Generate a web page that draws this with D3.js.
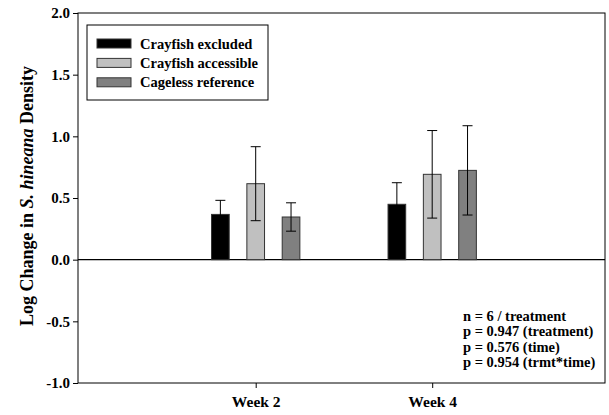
<!DOCTYPE html>
<html>
<head>
<meta charset="utf-8">
<script src="https://cdn.jsdelivr.net/npm/d3@7"></script>
<style>
body { margin:0; background:#fff; }
svg text { font-family:"Liberation Serif","Times New Roman",serif; font-weight:bold; }
</style>
</head>
<body>
<script>
// data
var weeks = ["Week 2", "Week 4"];
var groups = ["Crayfish excluded", "Crayfish accessible", "Cageless reference"];
var colors = ["#000000", "#c0c0c0", "#808080"];
var means = [[0.367, 0.616, 0.346], [0.449, 0.692, 0.724]];
var errs = [[0.114, 0.300, 0.115], [0.175, 0.355, 0.362]];
var yTicks = [-1.0, -0.5, 0.0, 0.5, 1.0, 1.5, 2.0];
var notes = ["n = 6 / treatment", "p = 0.947 (treatment)", "p = 0.576 (time)", "p = 0.954 (trmt*time)"];

main = function(){
	var W = 609, H = 415;
	var left = 78, right = 605, top = 13, bottom = 383;

	var svg = d3.select("body").append("svg")
		.attr("width", W).attr("height", H);

	var y = d3.scaleLinear().domain([-1, 2]).range([bottom, top]);
	var x = d3.scalePoint().domain(weeks).range([255.7, 432.2]);
	var xb = d3.scaleBand().domain(groups).range([-53, 53]).paddingInner(0.5).paddingOuter(0.25);

	// frame
	svg.append("rect")
		.attr("x", left).attr("y", top)
		.attr("width", right - left).attr("height", bottom - top)
		.attr("fill", "none").attr("stroke", "#000").attr("stroke-width", 1);

	// y axis (plain hyphen for negatives, like the original)
	var ya = svg.append("g").attr("transform", "translate(" + left + ",0)")
		.call(d3.axisLeft(y).tickValues(yTicks)
			.tickFormat(function(d){ return d.toFixed(1); })
			.tickSize(5).tickPadding(3));
	ya.select(".domain").remove();
	ya.selectAll("text").attr("font-size", 15).attr("font-family", null).attr("font-weight", "bold");

	// x axis
	var xa = svg.append("g").attr("transform", "translate(0," + bottom + ")")
		.call(d3.axisBottom(x).tickSize(5).tickPadding(8));
	xa.select(".domain").remove();
	xa.selectAll("text").attr("font-size", 15.5).attr("font-family", null).attr("font-weight", "bold");

	// zero line
	svg.append("line")
		.attr("x1", left).attr("x2", right)
		.attr("y1", y(0)).attr("y2", y(0))
		.attr("stroke", "#000").attr("stroke-width", 1.2);

	// bars
	weeks.forEach(function(w, i){
		var g = svg.append("g").attr("transform", "translate(" + x(w) + ",0)");
		groups.forEach(function(s, j){
			var bx = xb(s), bw = xb.bandwidth();
			g.append("rect")
				.attr("x", bx).attr("y", y(means[i][j]))
				.attr("width", bw).attr("height", y(0) - y(means[i][j]))
				.attr("fill", colors[j]).attr("stroke", "#333").attr("stroke-width", 1);
			var cx = bx + bw / 2;
			var hi = y(means[i][j] + errs[i][j]), lo = y(means[i][j] - errs[i][j]);
			g.append("line").attr("x1", cx).attr("x2", cx).attr("y1", hi).attr("y2", lo)
				.attr("stroke", "#000").attr("stroke-width", 1);
			[hi, lo].forEach(function(yy){
				g.append("line").attr("x1", cx - 5).attr("x2", cx + 5).attr("y1", yy).attr("y2", yy)
					.attr("stroke", "#000").attr("stroke-width", 1);
			});
		});
	});

	// legend
	var lg = svg.append("g");
	lg.append("rect").attr("x", 87).attr("y", 25).attr("width", 181).attr("height", 75)
		.attr("fill", "#fff").attr("stroke", "#000").attr("stroke-width", 1);
	groups.forEach(function(s, j){
		var ry = 39 + j * 19.4;
		lg.append("rect").attr("x", 97).attr("y", ry).attr("width", 34).attr("height", 9)
			.attr("fill", colors[j]).attr("stroke", "#333").attr("stroke-width", 1);
		lg.append("text").attr("x", 140).attr("y", ry + 9.5).attr("font-size", 14.5).text(s);
	});

	// y label
	var yl = svg.append("text")
		.attr("transform", "translate(33,196) rotate(-90)")
		.attr("text-anchor", "middle").attr("font-size", 18);
	yl.append("tspan").text("Log Change in ");
	yl.append("tspan").attr("font-style", "italic").text("S. hineana");
	yl.append("tspan").text(" Density");

	// stats notes
	svg.selectAll(".note").data(notes).enter().append("text")
		.attr("class", "note")
		.attr("x", 463).attr("y", function(d, i){ return 321 + i * 15.3; })
		.attr("font-size", 14.5).text(function(d){ return d; });
};
main();
</script>
</body>
</html>
